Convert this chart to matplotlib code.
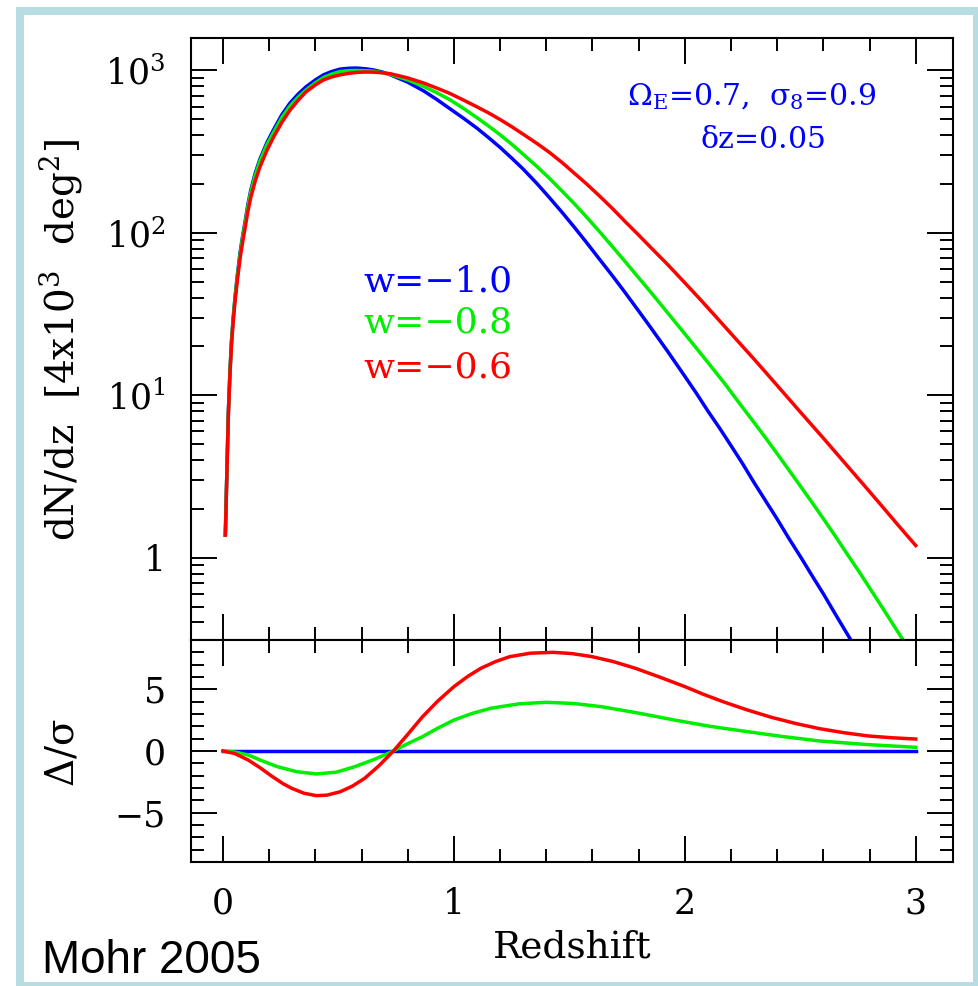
import numpy as np
import matplotlib
matplotlib.use("Agg")
import matplotlib.pyplot as plt
from matplotlib.patches import Rectangle
from matplotlib.ticker import MultipleLocator, LogLocator, NullFormatter

plt.rcParams['font.family'] = ['DejaVu Serif']
plt.rcParams['mathtext.fontset'] = 'dejavuserif'
plt.rcParams['mathtext.default'] = 'regular'

# dN/dz curves
z_blue = [0.010, 0.013, 0.016, 0.020, 0.023, 0.030, 0.037, 0.045, 0.052, 0.062, 0.074, 0.085,
          0.095, 0.107, 0.12, 0.14, 0.16, 0.19, 0.22, 0.255, 0.29, 0.325, 0.36, 0.40,
          0.435, 0.47, 0.507, 0.545, 0.58, 0.615, 0.65, 0.69, 0.725, 0.80, 0.87, 0.925,
          0.98, 1.04, 1.10, 1.15, 1.20, 1.25, 1.30, 1.36, 1.415, 1.47, 1.52, 1.575,
          1.63, 1.685, 1.74, 1.795, 1.85, 1.925, 2.0, 2.05, 2.1, 2.15, 2.2, 2.25,
          2.3, 2.35, 2.4, 2.45, 2.5, 2.55, 2.6, 2.66, 2.72]
dn_blue = [1.38, 2.1, 3.1, 5.3, 7.8, 14, 22, 31, 40, 55, 76, 96,
           116, 148, 183, 235, 285, 360, 435, 535, 630, 715, 795, 875,
           940, 985, 1020, 1032, 1035, 1025, 1009, 978, 940, 847, 747, 664,
           585, 510, 441, 386, 336, 289, 247, 201, 164, 133, 109, 87,
           69, 54.8, 43.2, 33.8, 26.4, 18.7, 13.1, 10.3, 8.0, 6.3, 4.9, 3.8,
           2.9, 2.24, 1.73, 1.32, 1.02, 0.78, 0.60, 0.43, 0.31]

z_green = [0.010, 0.013, 0.016, 0.020, 0.023, 0.030, 0.037, 0.045, 0.052, 0.062, 0.074, 0.085,
           0.095, 0.107, 0.12, 0.14, 0.16, 0.19, 0.22, 0.255, 0.29, 0.325, 0.36, 0.40,
           0.435, 0.47, 0.507, 0.545, 0.58, 0.615, 0.65, 0.69, 0.725, 0.80, 0.87, 0.925,
           0.98, 1.04, 1.10, 1.15, 1.20, 1.25, 1.30, 1.36, 1.415, 1.47, 1.52, 1.575,
           1.63, 1.685, 1.74, 1.795, 1.85, 1.925, 2.0, 2.09, 2.173, 2.24, 2.3, 2.35,
           2.4, 2.45, 2.5, 2.55, 2.6, 2.65, 2.7, 2.75, 2.8, 2.87, 2.945]
dn_green = [1.38, 2.1, 3.1, 5.3, 7.8, 14, 22, 31, 40, 54, 74, 94,
            113, 144, 178, 228, 278, 350, 420, 515, 605, 685, 760, 840,
            905, 950, 985, 998, 1000, 997, 990, 970, 945, 875, 796, 731,
            664, 586, 512, 455, 402, 352, 305, 256, 216, 180, 152, 125,
            102, 82.8, 67, 54, 43.6, 32.3, 23.9, 16.6, 11.8, 8.8, 6.8, 5.47,
            4.37, 3.48, 2.77, 2.20, 1.74, 1.37, 1.07, 0.84, 0.653, 0.458, 0.312]

z_red = [0.010, 0.013, 0.016, 0.020, 0.023, 0.030, 0.037, 0.045, 0.052, 0.062, 0.074, 0.085,
         0.095, 0.107, 0.12, 0.14, 0.16, 0.19, 0.22, 0.255, 0.29, 0.325, 0.36, 0.40,
         0.435, 0.47, 0.507, 0.545, 0.58, 0.615, 0.65, 0.69, 0.725, 0.80, 0.87, 0.925,
         0.98, 1.04, 1.10, 1.15, 1.20, 1.25, 1.30, 1.36, 1.415, 1.47, 1.52, 1.575,
         1.63, 1.685, 1.74, 1.795, 1.85, 1.925, 2.0, 2.065, 2.13, 2.2, 2.3, 2.4,
         2.5, 2.6, 2.7, 2.775, 2.85, 2.925, 3.0]
dn_red = [1.38, 2.0, 3.0, 5.1, 7.5, 13.5, 21, 29.5, 38, 51, 70, 88,
          106, 134, 165, 210, 255, 322, 392, 480, 570, 655, 740, 815,
          875, 912, 940, 960, 973, 978, 977, 968, 955, 900, 836, 780,
          725, 659, 597, 548, 499, 451, 405, 355, 312, 270, 234, 200,
          169, 142, 118, 98.6, 82, 64, 49.3, 39.2, 31.0, 24.0, 16.7, 11.5,
          7.9, 5.45, 3.73, 2.81, 2.11, 1.58, 1.19]

# Delta/sigma curves
zd_blue = [0.0, 3.0]
dsig_blue = [0.0, 0.0]
zd_green = [0.0, 0.05, 0.109, 0.17, 0.235, 0.32, 0.403, 0.49, 0.571, 0.655, 0.738, 0.80,
            0.864, 0.93, 1.0, 1.08, 1.158, 1.28, 1.399, 1.52, 1.640, 1.80, 1.955, 2.11,
            2.27, 2.43, 2.584, 2.79, 3.0]
dsig_green = [0.0, -0.08, -0.32, -0.8, -1.27, -1.68, -1.86, -1.72, -1.27, -0.68, 0.0, 0.6,
              1.16, 1.85, 2.51, 3.05, 3.46, 3.82, 3.95, 3.85, 3.59, 3.07, 2.51, 2.0,
              1.57, 1.16, 0.81, 0.52, 0.30]
zd_red = [0.0, 0.05, 0.109, 0.16, 0.214, 0.26, 0.298, 0.35, 0.403, 0.45, 0.508, 0.56,
          0.613, 0.675, 0.738, 0.80, 0.864, 0.93, 1.0, 1.06, 1.116, 1.18, 1.242, 1.33,
          1.431, 1.51, 1.598, 1.69, 1.787, 1.89, 2.0, 2.08, 2.165, 2.27, 2.375, 2.48,
          2.584, 2.69, 2.794, 2.9, 3.0]
dsig_red = [0.0, -0.2, -0.73, -1.35, -2.08, -2.65, -3.03, -3.42, -3.62, -3.58, -3.30, -2.85,
            -2.22, -1.2, 0.0, 1.35, 2.78, 4.05, 5.22, 6.05, 6.70, 7.25, 7.65, 7.93,
            8.0, 7.90, 7.65, 7.25, 6.70, 6.0, 5.22, 4.6, 4.0, 3.33, 2.73, 2.23,
            1.81, 1.48, 1.22, 1.07, 0.97]

w_labels = ["w=\u22121.0", "w=\u22120.8", "w=\u22120.6"]
colors = ['#0000ff', '#00ee00', '#ff0000']

W, H = 979, 986
fig = plt.figure(figsize=(W / 100, H / 100), dpi=100)
fig.patch.set_facecolor('white')

# light blue frame around the slide image
fc = '#b7dde2'
for (x0, y0, x1, y1) in [(16, 7, 24, 986), (16, 7, 979, 15), (973, 7, 979, 986), (16, 982, 979, 986)]:
    fig.patches.append(Rectangle((x0 / W, 1 - y1 / H), (x1 - x0) / W, (y1 - y0) / H,
                                 transform=fig.transFigure, facecolor=fc, edgecolor='none'))

left = 190.7 / W
width = (952.7 - 190.7) / W
ax1 = fig.add_axes([left, 1 - 640 / H, width, (640 - 38) / H])
ax2 = fig.add_axes([left, 1 - 862 / H, width, (862 - 640) / H])

lw = 2.5
ax1.plot(z_blue, dn_blue, color=colors[0], lw=lw)
ax1.plot(z_green, dn_green, color=colors[1], lw=lw)
ax1.plot(z_red, dn_red, color=colors[2], lw=lw)
ax1.set_yscale('log')
ax1.set_xlim(-0.14, 3.16)
ax1.set_ylim(10 ** -0.506, 10 ** 3.2)
ax1.set_yticks([1, 10, 100, 1000])
ax1.set_yticklabels(['1', r'$10^1$', r'$10^2$', r'$10^3$'])
ax1.yaxis.set_minor_locator(LogLocator(base=10, subs=np.arange(2, 10)))
ax1.yaxis.set_minor_formatter(NullFormatter())
ax1.xaxis.set_major_locator(MultipleLocator(1))
ax1.xaxis.set_minor_locator(MultipleLocator(0.2))
ax1.tick_params(axis='x', labelbottom=False)

ax2.plot(zd_blue, dsig_blue, color=colors[0], lw=lw)
ax2.plot(zd_green, dsig_green, color=colors[1], lw=lw)
ax2.plot(zd_red, dsig_red, color=colors[2], lw=lw)
ax2.set_xlim(-0.14, 3.16)
ax2.set_ylim(-9, 9)
ax2.yaxis.set_major_locator(MultipleLocator(5))
ax2.yaxis.set_minor_locator(MultipleLocator(1))
ax2.xaxis.set_major_locator(MultipleLocator(1))
ax2.xaxis.set_minor_locator(MultipleLocator(0.2))

for ax in (ax1, ax2):
    for s in ax.spines.values():
        s.set_linewidth(1.5)
    ax.tick_params(which='both', direction='in', top=True, right=True, width=1.4,
                   labelsize=25, color='black')
    ax.tick_params(which='major', length=18.5, pad=18)
    ax.tick_params(which='minor', length=9.2)

fig.text(0.062, 1 - 340 / H, r"dN/dz  [4x10$^3$  deg$^2$]", rotation=90,
         ha='center', va='center', fontsize=28)
fig.text(0.064, 1 - 753 / H, r"$\Delta/\sigma$", rotation=90,
         ha='center', va='center', fontsize=28)
fig.text(572 / W, 1 - 948 / H, "Redshift", ha='center', va='center', fontsize=27)

for i, lab in enumerate(w_labels):
    fig.text(363 / W, 1 - [282, 322, 367][i] / H, lab, color=colors[i],
             ha='left', va='center', fontsize=26)

fig.text(752 / W, 1 - 97 / H, r"$\Omega_{\rm E}$=0.7,  $\sigma_8$=0.9", color='#0000ff',
         ha='center', va='center', fontsize=21.5)
fig.text(762 / W, 1 - 140 / H, r"$\delta$z=0.05", color='#0000ff',
         ha='center', va='center', fontsize=21.5)

fig.text(42 / W, 1 - 973 / H, "Mohr 2005", family='Liberation Sans',
         ha='left', va='baseline', fontsize=33)

fig.savefig("out.png", dpi=100)
